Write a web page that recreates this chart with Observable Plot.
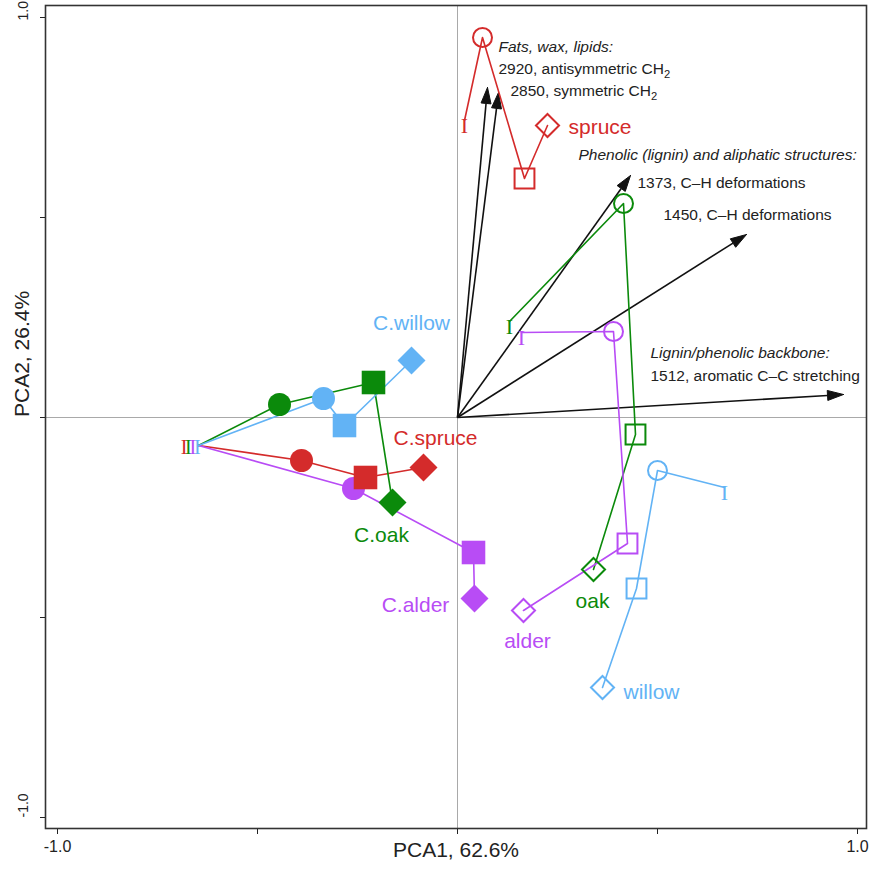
<!DOCTYPE html>
<html><head><meta charset="utf-8">
<script src="https://cdn.jsdelivr.net/npm/d3@7"></script>
<script src="https://cdn.jsdelivr.net/npm/@observablehq/plot@0.6"></script>
<style>body{margin:0;background:#fff}</style>
</head><body><div id="chart"></div>
<script>
// ---------- data ----------
const seriesNames = ["spruce", "oak", "alder", "willow", "C.spruce", "C.oak", "C.alder", "C.willow"];
const seriesColors = ["#d42b2b", "#0b8a0b", "#b84cf5", "#62b3f5", "#d42b2b", "#0b8a0b", "#b84cf5", "#62b3f5"];
const seriesKinds = ["open", "open", "open", "open", "filled", "filled", "filled", "filled"];
// points in order: stage label point, circle, square, diamond  (PCA1, PCA2)
const spruce   = [[0.0175, 0.7425], [0.0625, 0.95], [0.1675, 0.5975], [0.225, 0.73]];
const oak      = [[0.13, 0.24], [0.415, 0.535], [0.445, -0.0425], [0.34, -0.38]];
const alder    = [[0.16, 0.2125], [0.39, 0.215], [0.425, -0.315], [0.165, -0.4825]];
const willow   = [[0.6675, -0.175], [0.5, -0.1325], [0.4475, -0.4275], [0.3625, -0.675]];
const cSpruce  = [[-0.6475, -0.07], [-0.39, -0.1075], [-0.23, -0.15], [-0.085, -0.125]];
const cOak     = [[-0.6475, -0.07], [-0.445, 0.0325], [-0.21, 0.0875], [-0.1625, -0.2125]];
const cAlder   = [[-0.6475, -0.07], [-0.26, -0.1775], [0.04, -0.3375], [0.0425, -0.4525]];
const cWillow  = [[-0.6475, -0.07], [-0.335, 0.0475], [-0.2825, -0.02], [-0.115, 0.1425]];
const seriesPoints = [spruce, oak, alder, willow, cSpruce, cOak, cAlder, cWillow];
const stageLabels = ["I", "I", "I", "I", "III", "III", "III", "III"];
const pointSymbols = [null, "circle", "square", "diamond2"];
const compostStackOrder = ["C.spruce", "C.oak", "C.alder", "C.willow"];

// loadings (arrow tips)
const loadingNames = ["2920", "2850", "1373", "1450", "1512"];
const loadingX = [0.075, 0.1025, 0.4325, 0.7225, 0.965];
const loadingY = [0.825, 0.8125, 0.605, 0.4575, 0.0575];

// series name labels
const labelText = ["spruce", "oak", "alder", "willow", "C.spruce", "C.oak", "C.alder", "C.willow"];
const labelX = [0.2775, 0.3375, 0.175, 0.415, -0.055, -0.19, -0.105, -0.115];
const labelY = [0.725, -0.46, -0.56, -0.6875, -0.0525, -0.295, -0.47, 0.235];
const labelAnchor = ["start", "middle", "middle", "start", "middle", "middle", "middle", "middle"];

// loading annotations
const noteText = ["Fats, wax, lipids:", "2920, antisymmetric CH2", "2850, symmetric CH2",
  "Phenolic (lignin) and aliphatic structures:", "1373, C\u2013H deformations", "1450, C\u2013H deformations",
  "Lignin/phenolic backbone:", "1512, aromatic C\u2013C stretching"];
const noteX = [0.1025, 0.1025, 0.1325, 0.3025, 0.45, 0.515, 0.4825, 0.4825];
const noteY = [0.925, 0.87, 0.815, 0.655, 0.585, 0.505, 0.16, 0.1025];
const noteItalic = [true, false, false, true, false, false, true, false];

const xTicks = [-1, -0.5, 0, 0.5, 1];
const yTicks = [-1, -0.5, 0, 0.5, 1];
const axisLabelTicks = [-1, 1];
const xTitle = "PCA1, 62.6%";
const yTitle = "PCA2, 26.4%";

// ---------- build tables ----------
const rows = [];
seriesNames.forEach((s, i) => {
  seriesPoints[i].forEach(([x, y], k) => rows.push({series: s, kind: seriesKinds[i], stage: k, x, y, sym: pointSymbols[k]}));
});
const arrows = loadingNames.map((n, i) => ({name: n, x: loadingX[i], y: loadingY[i]}));
const HL = 0.04, HW = 0.0125;
const heads = [], shafts = [];
arrows.forEach(a => {
  const len = Math.hypot(a.x, a.y), ux = a.x / len, uy = a.y / len;
  const bx = a.x - ux * HL, by = a.y - uy * HL;
  shafts.push({name: a.name, x1: 0, y1: 0, x2: bx, y2: by});
  heads.push({name: a.name, x: a.x, y: a.y});
  heads.push({name: a.name, x: bx - uy * HW, y: by + ux * HW});
  heads.push({name: a.name, x: bx + uy * HW, y: by - ux * HW});
  heads.push({name: a.name, x: a.x, y: a.y});
});
const labels = labelText.map((t, i) => ({series: seriesNames[i], text: t, x: labelX[i], y: labelY[i], anchor: labelAnchor[i]}));
const notes = noteText.map((t, i) => ({text: t, x: noteX[i], y: noteY[i], italic: noteItalic[i]}));

const xDomain = [-1.03, 1.0225], yDomain = [-1.0275, 1.03];

const dotMarks = [];
const sizes = {open: {circle: 9.5, square: 11.2, diamond2: 10.4}, filled: {circle: 11.5, square: 13.3, diamond2: 12.6}};
for (const kind of ["open", "filled"]) {
  for (const sym of ["circle", "square", "diamond2"]) {
    const data = rows.filter(d => d.kind === kind && d.sym === sym);
    dotMarks.push(Plot.dot(data, kind === "open"
      ? {x: "x", y: "y", symbol: () => sym, r: sizes[kind][sym], stroke: "series", strokeWidth: 2, fill: "none"}
      : {x: "x", y: "y", symbol: () => sym, r: sizes[kind][sym], fill: "series", stroke: "none"}));
  }
}

const serif = "Liberation Serif, Times New Roman, serif";
const openFirst = rows.filter(d => d.kind === "open" && d.stage === 0);
// compost series share one start point: their stage marks are stacked into one label
const compostFirst = rows.filter(d => d.kind === "filled" && d.stage === 0).slice(0, 1);
const stageMarks = [
  Plot.text(openFirst, {x: "x", y: "y", text: d => stageLabels[seriesNames.indexOf(d.series)], fill: "series",
    fontFamily: serif, fontSize: 22, dy: 5}),
  Plot.text(compostFirst, {x: "x", y: "y", text: () => compostStackOrder.map(() => "I").join(""), fill: "#d42b2b",
    fontFamily: serif, fontSize: 20, textAnchor: "end", dx: 0, dy: 2, className: "compost-stage"})
];

const plot = Plot.plot({
  width: 869, height: 870,
  marginLeft: 45, marginRight: 3, marginTop: 5, marginBottom: 42,
  x: {domain: xDomain, ticks: xTicks, tickFormat: () => "", tickSize: 6, label: null},
  y: {domain: yDomain, ticks: yTicks, tickFormat: () => "", tickSize: 5, label: null},
  color: {domain: seriesNames, range: seriesColors},
  style: {fontFamily: "Liberation Sans, Arial, sans-serif", fontSize: "13px", color: "#222", background: "#fff"},
  marks: [
    Plot.ruleX([0], {stroke: "#a9a9a9", strokeWidth: 1}),
    Plot.ruleY([0], {stroke: "#a9a9a9", strokeWidth: 1}),
    Plot.frame({stroke: "#333", strokeWidth: 1.6}),
    Plot.link(shafts, {x1: "x1", y1: "y1", x2: "x2", y2: "y2", stroke: "#111", strokeWidth: 1.6}),
    Plot.line(heads, {x: "x", y: "y", z: "name", fill: "#111", stroke: "#111", strokeWidth: 1, curve: "linear"}),
    Plot.line(rows, {x: "x", y: "y", z: "series", stroke: "series", strokeWidth: 1.6}),
    ...dotMarks,
    ...stageMarks,
    Plot.text(labels, {x: "x", y: "y", text: "text", fill: "series", textAnchor: "start", fontSize: 21, filter: d => d.anchor === "start"}),
    Plot.text(labels, {x: "x", y: "y", text: "text", fill: "series", textAnchor: "middle", fontSize: 21, filter: d => d.anchor === "middle"}),
    Plot.text(notes, {x: "x", y: "y", text: "text", textAnchor: "start", fontSize: 15.5, fill: "#222", fontStyle: "italic", filter: d => d.italic}),
    Plot.text(notes, {x: "x", y: "y", text: "text", textAnchor: "start", fontSize: 15.5, fill: "#222", filter: d => !d.italic}),
    Plot.text(axisLabelTicks, {x: d => d, text: d => d.toFixed(1), frameAnchor: "bottom", dy: 23, fontSize: 16, fill: "#222"}),
    Plot.text(axisLabelTicks, {y: d => d, text: d => d.toFixed(1), frameAnchor: "left", dx: -22, dy: 3, rotate: -90, fontSize: 14, fill: "#222", filter: d => d > 0}),
    Plot.text(axisLabelTicks, {y: d => d, text: d => d.toFixed(1), frameAnchor: "left", dx: -22, rotate: -90, fontSize: 14, fill: "#222", filter: d => d < 0}),
    Plot.text([xTitle], {frameAnchor: "bottom", dy: 28, fontSize: 21, fill: "#222"}),
    Plot.text([yTitle], {frameAnchor: "left", dx: -23, rotate: -90, fontSize: 21, fill: "#222"})
  ]
});

// subscript 2 in CH2
d3.select(plot).selectAll("text").each(function () {
  const el = d3.select(this);
  if (this.childElementCount === 0 && /CH2$/.test(this.textContent)) {
    const t = this.textContent;
    el.text(t.slice(0, -1));
    el.append("tspan").attr("dy", "0.35em").attr("font-size", "0.72em").text("2");
  }
});
// colour each stacked compost stage mark by its series
const colorOf = s => seriesColors[seriesNames.indexOf(s)];
d3.select(plot).selectAll(".compost-stage text").each(function () {
  const el = d3.select(this);
  el.text("").attr("letter-spacing", "-2.2px");
  compostStackOrder.forEach(s => el.append("tspan").attr("fill", colorOf(s)).text("I"));
});
document.getElementById("chart").appendChild(plot);
</script>
</body></html>
